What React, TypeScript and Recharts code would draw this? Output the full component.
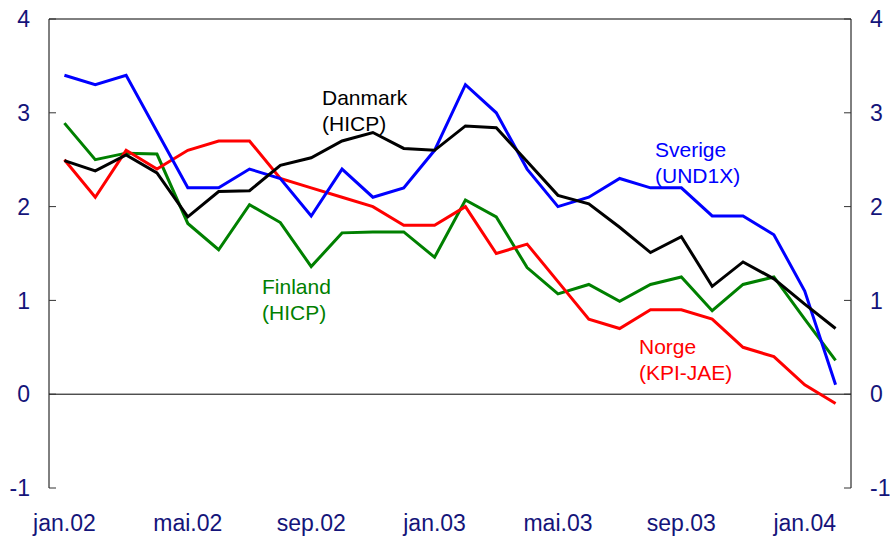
import React from "react"
import { LineChart, Line, XAxis, YAxis, ReferenceLine, Customized } from "recharts"

const months = [
  "jan.02", "feb.02", "mar.02", "apr.02", "mai.02", "jun.02", "jul.02", "aug.02", "sep.02", "okt.02", "nov.02", "des.02",
  "jan.03", "feb.03", "mar.03", "apr.03", "mai.03", "jun.03", "jul.03", "aug.03", "sep.03", "okt.03", "nov.03", "des.03",
  "jan.04", "feb.04",
]

const sverige = [3.4, 3.3, 3.4, 2.8, 2.2, 2.2, 2.4, 2.3, 1.9, 2.4, 2.1, 2.2, 2.6, 3.3, 3.0, 2.4, 2.0, 2.1, 2.3, 2.2, 2.2, 1.9, 1.9, 1.7, 1.1, 0.1]
const danmark = [2.49, 2.38, 2.55, 2.36, 1.89, 2.16, 2.17, 2.44, 2.52, 2.7, 2.79, 2.62, 2.6, 2.86, 2.84, 2.48, 2.12, 2.03, 1.78, 1.51, 1.68, 1.15, 1.41, 1.23, 0.96, 0.7]
const finland = [2.89, 2.5, 2.57, 2.56, 1.82, 1.54, 2.02, 1.83, 1.36, 1.72, 1.73, 1.73, 1.46, 2.07, 1.89, 1.35, 1.07, 1.17, 0.99, 1.17, 1.25, 0.89, 1.17, 1.25, 0.8, 0.36]
const norge = [2.5, 2.1, 2.6, 2.4, 2.6, 2.7, 2.7, 2.3, 2.2, 2.1, 2.0, 1.8, 1.8, 2.0, 1.5, 1.6, 1.2, 0.8, 0.7, 0.9, 0.9, 0.8, 0.5, 0.4, 0.1, -0.1]

const yTicks = [-1, 0, 1, 2, 3, 4]
// tick marks sit on month boundaries, labels in the middle of the month
const xTickMarks = [0, 4, 8, 12, 16, 20, 24]
const xLabelTicks = [0.5, 4.5, 8.5, 12.5, 16.5, 20.5, 24.5]

const data = months.map((month, i) => ({
  x: i + 0.5,
  month,
  sverige: sverige[i],
  danmark: danmark[i],
  finland: finland[i],
  norge: norge[i],
}))

const FONT = "'Liberation Sans', Arial, sans-serif"
const NAVY = "#14147a"
const axisTick = { fill: NAVY, fontSize: 23, fontFamily: FONT }

function SeriesLabels() {
  const style = { fontSize: 21, fontFamily: FONT }
  return (
    <g style={style}>
      <text x={322} y={105} fill="#000">Danmark</text>
      <text x={322} y={131} fill="#000">(HICP)</text>
      <text x={655} y={157} fill="#0000ff">Sverige</text>
      <text x={655} y={183} fill="#0000ff">(UND1X)</text>
      <text x={262} y={294} fill="#008000">Finland</text>
      <text x={262} y={320} fill="#008000">(HICP)</text>
      <text x={639} y={354} fill="#ff0000">Norge</text>
      <text x={639} y={380} fill="#ff0000">(KPI-JAE)</text>
    </g>
  )
}

export default function App() {
  return (
    <div style={{ position: "absolute", left: 0, top: 0, background: "#fff" }}>
      <LineChart width={890} height={537} data={data} margin={{ top: 19, right: 0, bottom: 0, left: 0 }}>
        <XAxis
          xAxisId="marks"
          dataKey="x"
          type="number"
          domain={[0, 26]}
          ticks={xTickMarks}
          tick={false}
          tickSize={-7}
          height={0}
          axisLine={{ stroke: "#000" }}
          tickLine={{ stroke: "#333" }}
        />
        <XAxis
          xAxisId="labels"
          dataKey="x"
          type="number"
          domain={[0, 26]}
          ticks={xLabelTicks}
          tickFormatter={(v: number) => months[Math.floor(v)]}
          tick={axisTick}
          tickLine={false}
          axisLine={false}
          tickSize={0}
          tickMargin={27}
          height={49}
        />
        <YAxis
          yAxisId="left"
          domain={[-1, 4]}
          ticks={yTicks}
          width={49}
          tick={axisTick}
          tickSize={-7}
          tickMargin={26}
          axisLine={{ stroke: "#000" }}
          tickLine={{ stroke: "#333" }}
        />
        <YAxis
          yAxisId="right"
          orientation="right"
          domain={[-1, 4]}
          ticks={yTicks}
          width={39}
          tick={axisTick}
          tickSize={-7}
          tickMargin={26}
          axisLine={{ stroke: "#000" }}
          tickLine={{ stroke: "#333" }}
        />
        <ReferenceLine xAxisId="marks" yAxisId="left" y={4} stroke="#000" strokeWidth={1} />
        <ReferenceLine xAxisId="marks" yAxisId="left" y={0} stroke="#000" strokeWidth={1} />
        <Line xAxisId="marks" yAxisId="left" type="linear" dataKey="finland" stroke="#008000" strokeWidth={3} dot={false} isAnimationActive={false} />
        <Line xAxisId="marks" yAxisId="left" type="linear" dataKey="norge" stroke="#ff0000" strokeWidth={3} dot={false} isAnimationActive={false} />
        <Line xAxisId="marks" yAxisId="left" type="linear" dataKey="sverige" stroke="#0000ff" strokeWidth={3} dot={false} isAnimationActive={false} />
        <Line xAxisId="marks" yAxisId="right" type="linear" dataKey="danmark" stroke="#000000" strokeWidth={3} dot={false} isAnimationActive={false} />
        <Customized component={<SeriesLabels />} />
      </LineChart>
    </div>
  )
}
